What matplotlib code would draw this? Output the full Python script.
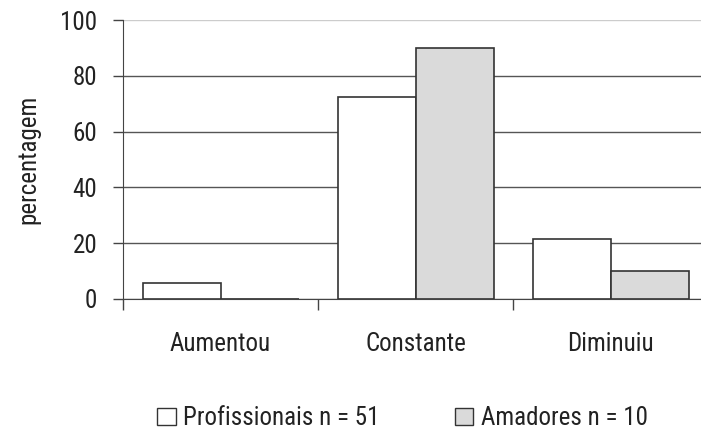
import matplotlib
matplotlib.use("Agg")
import matplotlib.pyplot as plt
import numpy as np
from matplotlib import font_manager
from matplotlib.patches import Patch

categorias = ["Aumentou", "Constante", "Diminuiu"]
profissionais = [5.9, 72.5, 21.6]
amadores = [0, 90, 10]
yticks = [0, 20, 40, 60, 80, 100]
nomes = ["Profissionais n = 51", "Amadores n = 10"]


# procura uma fonte estreita, parecida com a do original
def escolhe_fonte(nomes_fonte):
    for n in nomes_fonte:
        try:
            font_manager.findfont(font_manager.FontProperties(family=n), fallback_to_default=False)
            return n, True
        except ValueError:
            pass
    return "Liberation Sans", False

fonte, estreita = escolhe_fonte(["Liberation Sans Narrow", "Roboto Condensed", "Open Sans Condensed"])
tam = 18 if estreita else 15.5
plt.rcParams["font.family"] = [fonte, "DejaVu Sans"]

cinza = "#dadada"
borda = "#333333"

fig = plt.figure(figsize=(7.01, 4.32), dpi=100)
ax = fig.add_axes([0.1755, 0.3079, 0.8345, 0.6458])

x = np.arange(len(categorias))
w = 0.4
ax.bar(x - w / 2, profissionais, w, color="white", edgecolor=borda, linewidth=1.2, zorder=3)
ax.bar(x + w / 2, amadores, w, color=cinza, edgecolor=borda, linewidth=1.2, zorder=3)

ax.set_xlim(-0.5, 2.5)
ax.set_ylim(0, 100)
ax.set_yticks(yticks)
ax.tick_params(axis="y", labelsize=tam, length=7.5, width=1, color="#444444", pad=11, labelcolor="#222222")
ax.set_xticks(x)
ax.set_xticklabels(categorias)
ax.tick_params(axis="x", which="major", length=0, labelsize=tam, pad=24, labelcolor="#222222")
ax.set_xticks([-0.5, 0.5, 1.5], minor=True)
ax.tick_params(axis="x", which="minor", length=8, width=1, color="#444444", direction="out")

ax.grid(axis="y", color="#555555", linewidth=1)
ax.set_axisbelow(True)
ax.yaxis.get_gridlines()[-1].set_color("#cccccc")

for s in ["top", "right"]:
    ax.spines[s].set_visible(False)
ax.spines["left"].set_color("#444444")
ax.spines["bottom"].set_color("#444444")

ax.set_ylabel("percentagem", fontsize=tam, color="#222222", labelpad=14)

alcas = [Patch(facecolor="white", edgecolor=borda, linewidth=1),
         Patch(facecolor=cinza, edgecolor=borda, linewidth=1)]
fig.legend(alcas, nomes, loc="center", bbox_to_anchor=(0.574, 0.032), ncol=2, frameon=False,
           fontsize=tam, handlelength=0.75, handleheight=0.65, handletextpad=0.3,
           columnspacing=3.0, borderpad=0, labelcolor="#222222")

fig.savefig("out.png", dpi=100, facecolor="white")
